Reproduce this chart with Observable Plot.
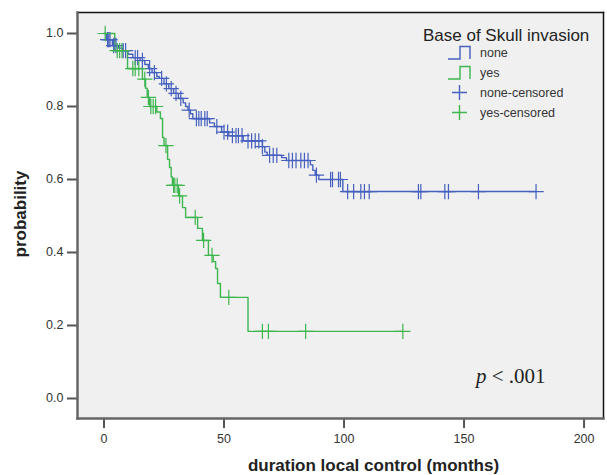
<!DOCTYPE html>
<html><head><meta charset="utf-8">
<script src="https://cdn.jsdelivr.net/npm/d3@7"></script>
<script src="https://cdn.jsdelivr.net/npm/@observablehq/plot@0.6"></script>
<style>
body{margin:0;background:#fff;font-family:"Liberation Sans",Arial,sans-serif}
#wrap{position:relative;width:607px;height:475px}
#over{position:absolute;left:0;top:0;pointer-events:none}
</style></head><body><div id="wrap"></div>
<script>
const groups = ["none", "yes"];
const groupColors = ["#4560bf", "#3db64f"];
const legendTitle = "Base of Skull invasion";
const legendLabels = ["none", "yes", "none-censored", "yes-censored"];
const xTitle = "duration local control (months)";
const yTitle = "probability";
const xTicks = [0, 50, 100, 150, 200];
const yTicks = [0, 0.2, 0.4, 0.6, 0.8, 1.0];

// Kaplan-Meier steps [month, survival] for "none"
const noneSteps = [[0,1.0],[1,0.983],[3.5,0.967],[6,0.96],[7.7,0.953],[10,0.943],[12,0.934],[15,0.926],[17,0.915],[18.5,0.904],[20,0.893],[22,0.882],[23,0.877],[25,0.862],[27,0.849],[29,0.836],[31,0.822],[33,0.81],[34,0.80],[35,0.79],[36,0.78],[37,0.767],[44,0.755],[46,0.745],[49,0.73],[52,0.72],[58,0.706],[66,0.69],[67,0.675],[68,0.666],[74,0.66],[76,0.652],[86,0.64],[87,0.625],[88,0.612],[89.5,0.60],[99.5,0.567]];
const noneCensored = [1.5,2,2.5,4,5,8,9,13,14,16,19,21,24,26,28,30,32,35.5,38.5,39.5,40.5,42,43,47,50,51.5,53.5,55,56,57.5,60,61.5,63,64.5,66,69,70.5,72,77,78.5,80,82,83.5,85,88.5,94.4,95.2,97.7,98.5,101.5,104,107,108.5,110.5,131,132,142,143.5,156,180];
const noneEnd = 180;

// Kaplan-Meier steps [month, survival] for "yes"
const yesSteps = [[0,1.0],[4.5,0.953],[9.8,0.904],[16,0.875],[17.3,0.85],[18,0.825],[19,0.80],[22,0.785],[23.5,0.767],[24.4,0.715],[25,0.693],[26.5,0.655],[27.3,0.633],[28,0.607],[28.5,0.584],[31,0.555],[32.7,0.523],[34,0.496],[39,0.466],[41,0.433],[43.5,0.392],[45.5,0.375],[46.5,0.356],[47.3,0.315],[48.5,0.277],[60,0.184]];
const yesCensored = [0.5,5.5,6.5,7.5,12,13,14.5,17,18.5,19.5,20.5,21.5,25.8,29,29.5,30.5,31.5,38,41.5,45,52,66,68.5,84,124.5];
const yesEnd = 124.5;

function stepAt(steps, t) { let s = steps[0][1]; for (const [tt, v] of steps) if (tt <= t) s = v; return s; }

const series = [
  {group: "none", steps: noneSteps, cens: noneCensored, end: noneEnd},
  {group: "yes", steps: yesSteps, cens: yesCensored, end: yesEnd}
];
const lineData = [];
const censorData = [];
for (const s of series) {
  for (const [t, v] of s.steps) lineData.push({t, s: v, group: s.group});
  lineData.push({t: s.end, s: s.steps[s.steps.length - 1][1], group: s.group});
  for (const t of s.cens) censorData.push({t, s: stepAt(s.steps, t), group: s.group});
}

const chart = Plot.plot({
  width: 607, height: 475,
  marginLeft: 77, marginTop: 12, marginRight: 4, marginBottom: 57,
  style: {fontFamily: "Liberation Sans, Arial, sans-serif", background: "transparent"},
  x: {domain: [-11.04, 208.1]},
  y: {domain: [-0.0548, 1.0575]},
  color: {domain: groups, range: groupColors},
  marks: [
    Plot.frame({fill: "#f0f0f0", stroke: null}),
    Plot.line(lineData, {x: "t", y: "s", z: "group", stroke: "group", curve: "step-after", strokeWidth: 1.4}),
    Plot.dot(censorData, {x: "t", y: "s", stroke: "group", symbol: "plus", r: 5, strokeWidth: 1.2}),
    Plot.axisX({ticks: xTicks, tickSize: 10, tickPadding: 6, fontSize: 12.5, stroke: "#555", strokeWidth: 2, fill: "#333", label: null}),
    Plot.axisY({ticks: yTicks, tickFormat: d3.format(".1f"), tickSize: 10, tickPadding: 4, fontSize: 12.5, stroke: "#555", strokeWidth: 2, fill: "#333", label: null}),
    Plot.frame({anchor: "top", stroke: "#111", strokeWidth: 1.5}),
    Plot.frame({anchor: "right", stroke: "#111", strokeWidth: 1.5}),
    Plot.frame({anchor: "left", stroke: "#666", strokeWidth: 2.5}),
    Plot.frame({anchor: "bottom", stroke: "#666", strokeWidth: 2.5})
  ]
});
const wrap = document.getElementById("wrap");
wrap.appendChild(chart);

// overlay: legend, titles, p-value
const svg = d3.select(wrap).append("svg").attr("id", "over").attr("width", 607).attr("height", 475)
  .style("font-family", "Liberation Sans, Arial, sans-serif");
svg.append("text").attr("x", 423).attr("y", 41).attr("font-size", 17).attr("fill", "#222").text(legendTitle);
const rowsY = [57, 77, 97, 117];
legendLabels.forEach((lab, i) => {
  svg.append("text").attr("x", 480).attr("y", rowsY[i]).attr("font-size", 12.5).attr("fill", "#333").text(lab);
});
groups.forEach((g, i) => {
  const b = rowsY[i] + 2;
  svg.append("path").attr("d", `M448,${b}H460V${b-12.5}H470V${b}`).attr("fill", "none").attr("stroke", groupColors[i]).attr("stroke-width", 1.4);
  const cy = rowsY[i + 2] - 4.5;
  svg.append("path").attr("d", `M452,${cy}H467M459.5,${cy-7.5}V${cy+7.5}`).attr("fill", "none").attr("stroke", groupColors[i]).attr("stroke-width", 1.4);
});
svg.append("text").attr("x", 373.5).attr("y", 471).attr("text-anchor", "middle").attr("font-size", 17).attr("font-weight", "bold").attr("fill", "#222").text(xTitle);
svg.append("text").attr("transform", "translate(26,214) rotate(-90)").attr("text-anchor", "middle").attr("font-size", 17).attr("font-weight", "bold").attr("fill", "#222").text(yTitle);
const pt = svg.append("text").attr("x", 476).attr("y", 383).attr("font-size", 21).attr("fill", "#222").style("font-family", "Liberation Serif, Times New Roman, serif");
pt.append("tspan").attr("font-style", "italic").text("p");
pt.append("tspan").text(" < .001");
</script></body></html>
